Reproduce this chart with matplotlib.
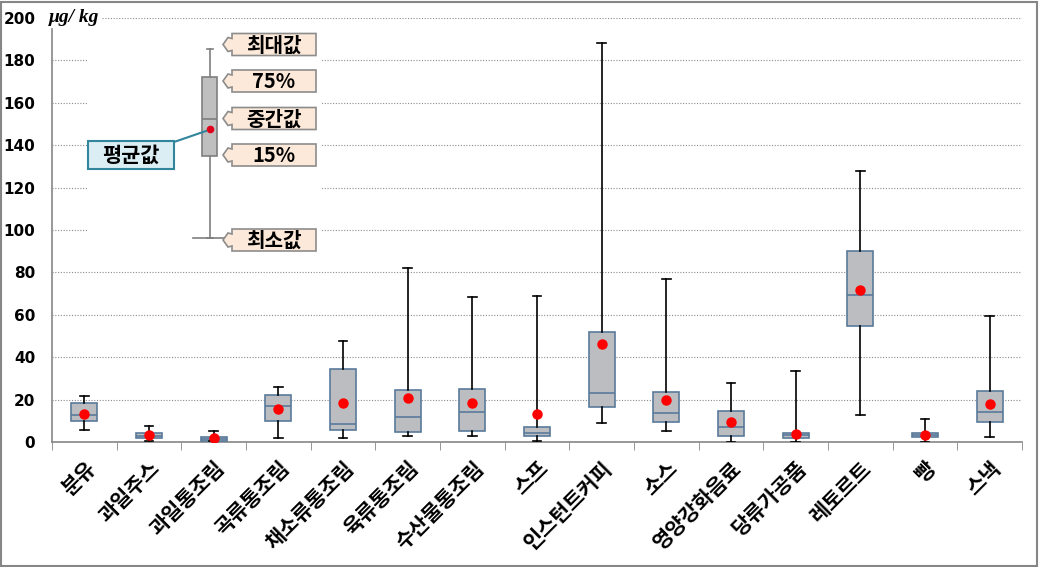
import matplotlib.pyplot as plt
import matplotlib.transforms as mtransforms
from matplotlib.patches import Rectangle, Polygon

plt.rcParams['font.family'] = ['Noto Sans CJK KR', 'DejaVu Sans']

# categories and box statistics (ug/kg)
categories = ['분유', '과일주스', '과일통조림', '곡류통조림', '채소류통조림', '육류통조림',
              '수산물통조림', '스프', '인스턴트커피', '소스', '영양강화음료', '당류가공품',
              '레토르트', '빵', '스낵']
whisker_low = [5.5, 0.3, 0.4, 1.7, 1.7, 2.7, 2.7, 0.5, 9.1, 5.2, 0.2, 0.2, 12.6, 0.2, 2.2]
q1 = [9.8, 1.7, 0.6, 9.8, 5.5, 4.9, 5.3, 2.6, 16.4, 9.3, 2.6, 2.0, 54.7, 2.5, 9.4]
median = [12.9, 3.0, 1.4, 17.0, 8.3, 11.6, 14.0, 4.2, 23.0, 13.7, 7.0, 3.1, 69.2, 3.5, 14.0]
q3 = [18.3, 4.2, 2.2, 22.0, 34.4, 24.4, 24.8, 7.0, 51.7, 23.8, 14.8, 4.2, 90.0, 4.4, 23.9]
whisker_high = [21.7, 7.4, 5.0, 25.9, 47.6, 82.0, 68.4, 68.9, 188.1, 76.9, 27.6, 33.5, 127.7, 10.7, 59.4]
mean = [13.1, 3.1, 1.7, 15.4, 18.3, 20.6, 18.3, 13.4, 46.1, 20.0, 9.5, 4.0, 71.6, 3.5, 17.8]

# example box used as the legend
legend_stats = dict(whislo=96.4, q1=135.0, med=152.4, q3=172.0, whishi=185.4, mean=147.5,
                    fliers=[])
legend_labels = ['최대값', '75%', '중간값', '15%', '최소값']

W, H = 1039, 567
fig = plt.figure(figsize=(W / 100, H / 100), dpi=100)
ax = fig.add_axes([52 / W, 1 - 442 / H, (1022 - 52) / W, (442 - 18) / H])


def px(x, y):
    # pixel position in the picture -> figure fraction
    return (x / W, 1 - y / H)


stats = []
for i in range(len(categories)):
    stats.append(dict(whislo=whisker_low[i], q1=q1[i], med=median[i], q3=q3[i],
                      whishi=whisker_high[i], mean=mean[i], fliers=[]))

pos = list(range(len(categories)))
ax.bxp(stats, positions=pos, widths=0.4, patch_artist=True, showmeans=True, showfliers=False,
       boxprops=dict(facecolor='#BCBDC0', edgecolor='#5A7A9B', linewidth=1.2),
       medianprops=dict(color='#5A7A9B', linewidth=1.2),
       whiskerprops=dict(color='black', linewidth=1.2),
       capprops=dict(color='black', linewidth=1.2), capwidths=0.13,
       meanprops=dict(marker='o', markerfacecolor='#FF0000', markeredgecolor='#FF0000',
                      markersize=6.5), zorder=3)

# legend box
ax.bxp([legend_stats], positions=[1.94], widths=0.23, patch_artist=True, showmeans=True,
       showfliers=False, manage_ticks=False,
       boxprops=dict(facecolor='#BFBFBF', edgecolor='#7F7F7F', linewidth=1.2),
       medianprops=dict(color='#7F7F7F', linewidth=1.2),
       whiskerprops=dict(color='#7F7F7F', linewidth=1.2),
       capprops=dict(color='#7F7F7F', linewidth=1.2), capwidths=0.1,
       meanprops=dict(marker='o', markerfacecolor='#E0001B', markeredgecolor='#E0001B',
                      markersize=4.5), zorder=3)

ax.set_xlim(-0.5, len(categories) - 0.5)
ax.set_ylim(0, 200)
ax.set_yticks(range(0, 201, 20))
ax.set_yticklabels([str(v) for v in range(0, 201, 20)], fontweight='bold', fontsize=11,
                   family=['DejaVu Sans'])
ax.tick_params(axis='y', length=0, pad=12)
ax.set_xticks(pos)
ax.set_xticklabels(categories, rotation=45, ha='right', va='top', rotation_mode='anchor',
                   fontsize=15, fontweight='bold')
ax.tick_params(axis='x', length=0, pad=11)
ax.set_xticks([p + 0.5 for p in [-1] + pos], minor=True)
ax.tick_params(axis='x', which='minor', length=6, color='#868686', direction='out')
ax.yaxis.grid(True, linestyle=(0, (1, 1.5)), color='#8C8C8C', linewidth=0.8)
ax.set_axisbelow(True)
for s in ['top', 'right']:
    ax.spines[s].set_visible(False)
for s in ['left', 'bottom']:
    ax.spines[s].set_color('#868686')
    ax.spines[s].set_linewidth(1.2)
ax.spines['left'].set_bounds(0, 195)

# white backdrop for the legend inset
x0, y0 = px(87, 256)
x1, y1 = px(322, 28)
ax.add_patch(Rectangle((x0, y0), x1 - x0, y1 - y0, transform=fig.transFigure,
                       facecolor='white', edgecolor='none', zorder=1))

blend = mtransforms.blended_transform_factory(fig.transFigure, ax.transData)
ax.plot([px(193, 0)[0], px(225, 0)[0]], [legend_stats['whislo']] * 2, color='#7F7F7F',
        linewidth=1.2, transform=blend, zorder=3)

# callout labels
centers = [44.5, 81, 118.5, 155, 240]
for lab, cy in zip(legend_labels, centers):
    top, bot = cy - 11, cy + 11
    pts = [px(316, top), px(316, bot), px(232, bot), px(232, cy + 6), px(228, cy + 7),
           px(223, cy), px(228, cy - 7), px(232, cy - 6), px(232, top)]
    fig.patches.append(Polygon(pts, closed=True, transform=fig.transFigure,
                               facecolor='#FDE9D9', edgecolor='#8C8C8C', linewidth=1.2,
                               zorder=4))
    fig.text(*px(274, cy + 0.5), lab, ha='center', va='center', fontsize=14.5,
             fontweight='bold', zorder=5)

# mean callout
bx, by = px(88, 169)
fig.patches.append(Rectangle((bx, by), (174 - 88) / W, (169 - 141) / H,
                             transform=fig.transFigure, facecolor='#DBEEF4',
                             edgecolor='#31859C', linewidth=1.5, zorder=4))
fig.text(*px(131, 155.5), '평균값', ha='center', va='center', fontsize=15,
         fontweight='bold', zorder=5)
fig.lines.append(plt.Line2D([px(174, 0)[0], px(206, 0)[0]], [px(0, 142)[1], px(0, 131)[1]],
                            transform=fig.transFigure, color='#31859C', linewidth=1.5))

# unit
fig.text(*px(74, 18), 'μg/ kg', ha='center', va='center', fontsize=14,
         fontweight='bold', fontstyle='italic', family=['Liberation Serif'],
         bbox=dict(facecolor='white', edgecolor='none', pad=1))

# outer border
fig.patches.append(Rectangle((0.001, 0.002), 0.997, 0.995, transform=fig.transFigure,
                             facecolor='none', edgecolor='#868686', linewidth=1.5))

fig.savefig('out.png', dpi=100)
